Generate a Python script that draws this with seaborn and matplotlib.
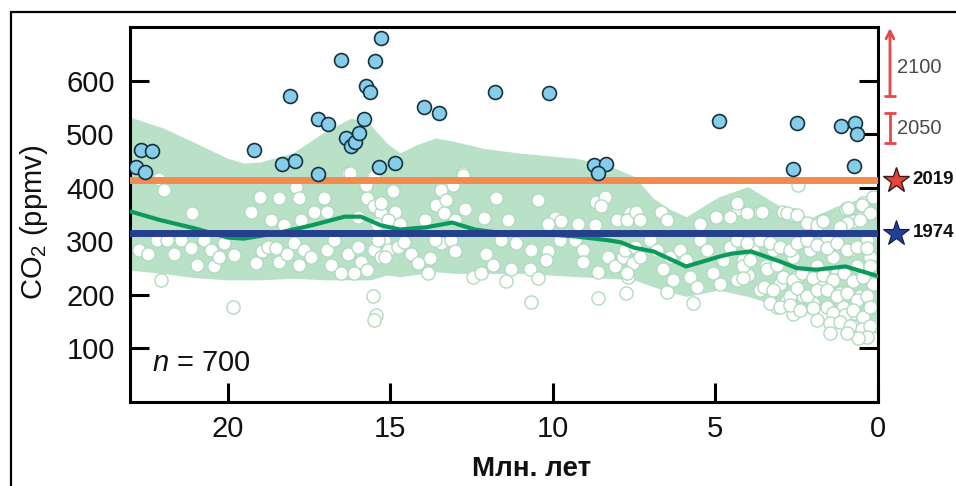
import matplotlib
matplotlib.use("Agg")
import matplotlib.pyplot as plt
import matplotlib.transforms as mtransforms
import seaborn as sns
from matplotlib.patches import Rectangle

# envelope (green band), million years ago -> ppmv
band_age = [23.0, 22.0, 21.0, 20.0, 19.5, 19.0, 18.0, 17.0, 16.2, 15.6, 15.1, 14.7, 14.2, 13.6, 13.0,
            12.1, 10.9, 9.3, 8.3, 7.5, 6.9, 6.4, 5.9, 4.9, 4.0, 3.0, 2.2, 1.3, 0.0]
band_upper = [532, 512, 484, 455, 446, 448, 465, 505, 530, 517, 483, 465, 480, 493, 486,
              473, 464, 455, 442, 421, 380, 360, 346, 383, 402, 365, 340, 365, 390]
band_lower = [246, 240, 232, 228, 228, 228, 231, 228, 228, 228, 237, 234, 238, 243, 240,
              240, 240, 234, 231, 228, 215, 205, 197, 209, 197, 178, 166, 166, 153]

# running median
median_age = [23.0, 22.1, 21.0, 20.0, 19.5, 18.5, 17.4, 16.4, 15.9, 15.3, 14.7, 13.9, 13.1, 12.4,
              11.4, 10.4, 9.3, 8.3, 7.9, 7.5, 6.9, 5.9, 4.9, 4.5, 3.9, 3.0, 2.5, 1.9, 1.0, 0.0]
median_co2 = [356, 340, 324, 307, 305, 315, 330, 346, 346, 330, 322, 326, 335, 322,
              314, 314, 309, 302, 298, 288, 281, 253, 271, 277, 281, 262, 250, 247, 253, 235]

# proxy estimates (open circles)
hollow_age = [
    22.11, 16.31, 15.49, 21.95, 21.08, 19.03, 18.41, 19.29, 18.67, 17.90,
    17.80, 17.03, 17.34, 16.93, 17.75, 18.26, 15.75, 15.70, 15.49, 15.29,
    15.39, 16.00, 22.72, 22.46, 22.16, 21.85, 21.64, 21.44, 21.13, 20.93,
    20.72, 20.52, 20.41, 20.26, 20.11, 19.80, 19.13, 18.93, 18.77, 18.52,
    18.41, 18.16, 17.95, 17.80, 17.64, 17.44, 16.93, 16.72, 16.82, 16.52,
    16.31, 16.00, 15.90, 16.11, 15.70, 15.49, 15.29, 15.18, 22.05, 19.82,
    15.54, 15.44, 15.49, 19.00, 16.25, 15.73, 14.92, 13.40, 12.77,
    12.76, 14.92, 15.27, 14.86, 15.07, 14.71, 13.43, 13.07, 13.58, 13.27,
    13.33, 13.02, 12.71, 13.94, 11.74, 12.10, 11.38, 10.45, 9.94, 10.15,
    9.74, 9.22, 8.66, 8.40, 8.51, 8.04, 7.63, 8.71, 15.38, 15.07,
    15.17, 14.76, 14.35, 14.15, 14.56, 13.84, 13.79, 13.43, 13.12, 13.02,
    13.63, 12.45, 12.20, 12.04, 11.84, 11.58, 11.27, 11.12, 10.66, 10.71,
    10.45, 10.15, 10.20, 9.79, 11.43, 9.33, 9.07, 9.07, 8.61, 8.30,
    8.10, 7.84, 7.69, 7.74, 10.66, 8.61,
    2.45, 7.73, 7.43, 7.32, 6.66, 6.50, 4.97, 4.30, 4.56, 3.63,
    2.91, 2.61, 2.20, 1.68, 0.97, 0.56, 0.45, 0.25, 0.15, 0.76,
    5.48, 7.79, 7.48, 7.53, 7.73, 7.32, 7.02, 6.81, 6.61, 6.40,
    6.30, 6.50, 6.09, 5.89, 5.79, 5.58, 5.68, 5.48, 5.27, 5.07,
    4.86, 4.76, 4.56, 4.35, 4.15, 4.04, 3.84, 3.99, 3.63, 3.43,
    3.22, 3.02, 2.81, 2.61, 2.50, 2.61, 2.30, 2.09, 1.89, 1.79,
    1.68, 1.58, 1.38, 1.27, 1.17, 1.07, 0.86, 0.76, 0.66, 0.56,
    0.45, 0.35, 0.25, 0.15, 0.20, 0.76, 0.04, 1.38, 1.99, 3.12,
    4.34, 4.04, 3.58, 2.81, 2.50, 2.19, 1.88, 1.68, 0.91, 0.50,
    0.24, 0.55, 0.96, 1.17, 4.34, 4.04, 3.63, 3.32, 3.01, 2.70,
    2.50, 2.19, 1.88, 1.58, 1.27, 0.96, 0.65, 0.35, 4.14, 3.93,
    4.14, 3.42, 3.11, 2.91, 2.60, 2.35, 1.99, 1.68, 1.37, 1.06,
    0.76, 0.45, 0.24, 3.52, 3.22, 2.70, 2.50, 2.19, 1.88, 1.58,
    1.27, 0.96, 0.65, 0.35, 3.32, 3.01, 2.70, 2.40, 1.99, 1.58,
    1.37, 1.01, 0.76, 0.45, 0.24, 1.88, 1.47, 1.17, 0.86, 0.50,
    0.24, 0.35, 0.60, 0.96, 1.47,
]
hollow_co2 = [
    417, 427, 421, 396, 352, 380, 380, 355, 340, 402,
    380, 380, 355, 355, 340, 330, 402, 380, 365, 352,
    333, 346, 284, 277, 302, 302, 277, 302, 287, 256,
    302, 284, 253, 271, 296, 274, 259, 281, 290, 287,
    262, 277, 296, 256, 284, 271, 284, 302, 256, 240,
    277, 290, 262, 240, 246, 284, 271, 302, 228, 177,
    198, 162, 153, 383, 427, 405, 396, 405, 427,
    424, 393, 371, 355, 340, 333, 396, 405, 368, 377,
    352, 340, 361, 340, 380, 343, 340, 377, 343, 333,
    337, 333, 374, 383, 365, 340, 352, 330, 302, 284,
    271, 290, 277, 259, 299, 240, 268, 296, 302, 281,
    302, 234, 240, 277, 256, 302, 249, 296, 284, 249,
    231, 281, 265, 302, 225, 302, 284, 262, 243, 271,
    253, 271, 234, 203, 187, 194,
    405, 340, 355, 340, 355, 340, 346, 361, 346, 355,
    355, 349, 333, 340, 361, 343, 371, 355, 383, 337,
    333, 284, 290, 259, 240, 271, 302, 284, 249, 271,
    228, 206, 284, 265, 234, 215, 184, 302, 284, 240,
    221, 265, 290, 228, 265, 302, 284, 237, 209, 253,
    284, 221, 190, 271, 234, 165, 197, 284, 253, 221,
    165, 302, 271, 240, 203, 178, 284, 228, 253, 197,
    153, 302, 271, 221, 178, 141, 141, 153, 184, 178,
    371, 352, 355, 352, 349, 334, 330, 337, 362, 368,
    352, 340, 334, 327, 302, 296, 302, 296, 290, 284,
    296, 302, 293, 287, 296, 284, 290, 287, 253, 265,
    231, 249, 256, 234, 228, 240, 231, 237, 228, 240,
    225, 234, 253, 215, 209, 197, 212, 197, 209, 209,
    197, 203, 190, 197, 184, 178, 181, 172, 175, 178,
    166, 162, 172, 159, 178, 153, 147, 150, 141, 137,
    141, 122, 119, 128, 128,
]

# high estimates (filled blue circles)
filled_age = [22.83, 22.54, 22.66, 22.32, 19.19, 18.09, 18.32, 17.94, 17.22, 16.90,
              17.22, 16.50, 16.37, 16.19, 16.07, 15.97, 15.79, 15.73, 15.63, 15.48,
              15.29, 15.34, 14.84, 13.96, 13.50, 11.78, 10.11, 8.73, 8.35, 8.62,
              4.90, 2.49, 2.61, 1.14, 0.70, 0.66, 0.73]
filled_co2 = [439, 430, 470, 468, 470, 572, 444, 450, 528, 518,
              426, 638, 493, 477, 486, 502, 529, 589, 578, 637,
              680, 439, 446, 550, 539, 578, 577, 443, 444, 428,
              525, 520, 434, 516, 520, 500, 441]

co2_2019 = 415
co2_1974 = 316
proj_2050 = [483, 539]
proj_2100 = [571, 698]
x_ticks = [20, 15, 10, 5, 0]
y_ticks = [100, 200, 300, 400, 500, 600]

sns.set_style("ticks")
plt.rcParams["font.family"] = ["Liberation Sans", "DejaVu Sans"]
plt.rcParams["mathtext.fontset"] = "custom"
plt.rcParams["mathtext.rm"] = "Liberation Sans"
plt.rcParams["mathtext.it"] = "Liberation Sans:italic"
plt.rcParams["text.color"] = "#111111"
plt.rcParams["axes.labelcolor"] = "#111111"
plt.rcParams["xtick.color"] = "black"
plt.rcParams["ytick.color"] = "black"
plt.rcParams["xtick.labelcolor"] = "#111111"
plt.rcParams["ytick.labelcolor"] = "#111111"

fig = plt.figure(figsize=(9.56, 4.86), dpi=100)
ax = fig.add_axes([130 / 956, 1 - 402 / 486, 748 / 956, 375 / 486])

ax.fill_between(band_age, band_lower, band_upper, color="#b8e1c7", lw=0, zorder=1)
sns.scatterplot(x=hollow_age, y=hollow_co2, s=90, color="white", edgecolor="#b0dbbf",
                linewidth=1.0, zorder=2, ax=ax, legend=False)
sns.lineplot(x=median_age, y=median_co2, color="#0c9a5c", lw=3, sort=False,
             estimator=None, zorder=3, ax=ax)
ax.axhline(co2_2019, color="#f28b4f", lw=5, zorder=4)
ax.axhline(co2_1974, color="#243f8e", lw=5, zorder=4)
sns.scatterplot(x=filled_age, y=filled_co2, s=100, color="#86cdea", edgecolor="#17323f",
                linewidth=1.2, zorder=5, ax=ax, legend=False)

ax.set_xlim(23, 0)
ax.set_ylim(0, 700)
ax.set_xticks(x_ticks)
ax.set_yticks(y_ticks)
ax.tick_params(direction="in", length=14, width=2.2, labelsize=21, right=True, top=False)
ax.tick_params(axis="x", pad=9)
ax.tick_params(axis="y", pad=11)
for sp in ax.spines.values():
    sp.set_linewidth(2.2)
    sp.set_color("black")

ax.set_xlabel("Млн. лет", fontsize=20, fontweight="bold")
ax.xaxis.set_label_coords(0.537, -0.145)
ax.set_ylabel(r"CO$_\mathregular{2}$ (ppmv)", fontsize=21)
ax.yaxis.set_label_coords(-0.107, 0.48)
ax.text(0.029, 0.104, r"$n$ = 700", transform=ax.transAxes, fontsize=21, va="center")

# right-hand annotations
trans = mtransforms.blended_transform_factory(ax.transAxes, ax.transData)
red = "#e8474a"
ax.annotate("", xy=(1.016, proj_2100[1]), xytext=(1.016, proj_2100[0]),
            xycoords=trans, textcoords=trans, annotation_clip=False,
            arrowprops=dict(arrowstyle="->,head_length=0.55,head_width=0.28", color=red, lw=2,
                            shrinkA=0, shrinkB=0))
ax.plot([1.016], [proj_2100[0]], marker="_", ms=9, mew=2, color=red,
        transform=trans, clip_on=False)
ax.plot([1.016, 1.016], proj_2050, color=red, lw=2, marker="_", ms=9, mew=2,
        transform=trans, clip_on=False)
ax.text(1.026, sum(proj_2100) / 2 - 10, "2100", transform=trans, fontsize=14.5,
        color="#4a4a4a", va="center")
ax.text(1.026, sum(proj_2050) / 2, "2050", transform=trans, fontsize=14.5,
        color="#4a4a4a", va="center")

ax.plot([1.024], [co2_2019], marker="*", ms=19, color="#e8423a", mec="#3a1a1a", mew=1,
        transform=trans, clip_on=False, zorder=6)
ax.plot([1.024], [co2_1974], marker="*", ms=19, color="#233f96", mec="#101a40", mew=0.8,
        transform=trans, clip_on=False, zorder=6)
ax.text(1.046, co2_2019, "2019", transform=trans, fontsize=13.5, fontweight="bold", va="center")
ax.text(1.046, co2_1974, "1974", transform=trans, fontsize=13.5, fontweight="bold", va="center")

fig.add_artist(Rectangle((0.0115, -0.2), 1.2, 1.176, transform=fig.transFigure,
                         fill=False, ec="black", lw=1.6))

fig.savefig("out.png", dpi=100)
